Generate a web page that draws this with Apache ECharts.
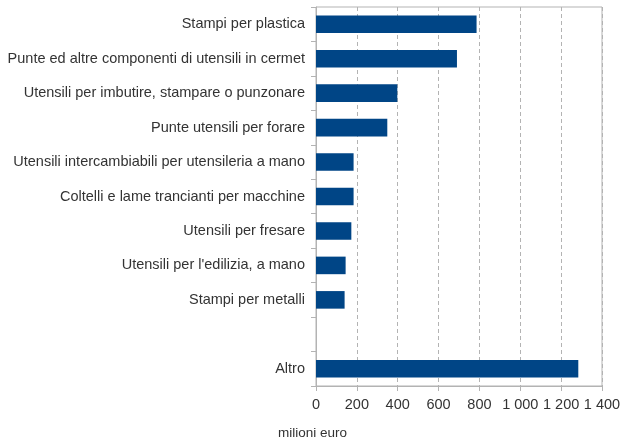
<!DOCTYPE html>
<html>
<head>
<meta charset="utf-8">
<script src="https://cdn.jsdelivr.net/npm/echarts@6/dist/echarts.min.js"></script>
<style>
  html, body { margin: 0; padding: 0; background: #fff; }
  #chart { width: 621px; height: 440px; }
</style>
</head>
<body>
<div id="chart"></div>
<script>
// categorie (dall'alto verso il basso), con una riga vuota prima di "Altro"
const categories = [
  'Stampi per plastica',
  'Punte ed altre componenti di utensili in cermet',
  'Utensili per imbutire, stampare o punzonare',
  'Punte utensili per forare',
  'Utensili intercambiabili per utensileria a mano',
  'Coltelli e lame trancianti per macchine',
  'Utensili per fresare',
  "Utensili per l'edilizia, a mano",
  'Stampi per metalli',
  '',
  'Altro'
];
// milioni di euro
const values = [786, 690, 398, 349, 184, 184, 173, 145, 140, null, 1284];
const xTicks = [0, 200, 400, 600, 800, 1000, 1200, 1400];
const unitLabel = 'milioni euro';

const chart = echarts.init(document.getElementById('chart'));

function fmt(v) {
  return String(v).replace(/\B(?=(\d{3})+(?!\d))/g, ' ');
}

chart.setOption({
  animation: false,
  textStyle: { fontFamily: 'Liberation Sans, Arial, sans-serif' },
  title: {
    text: unitLabel,
    left: 278,
    top: 426,
    padding: 0,
    textStyle: { fontSize: 13.5, fontWeight: 'normal', color: '#333', fontFamily: 'Liberation Sans, Arial, sans-serif' }
  },
  grid: {
    left: 316, right: 19, top: 7, bottom: 54,
    outerBoundsMode: 'none',
    containLabel: false,
    show: true, borderColor: '#b3b3b3', borderWidth: 1
  },
  xAxis: {
    type: 'value',
    min: xTicks[0],
    max: xTicks[xTicks.length - 1],
    interval: 200,
    axisLine: { show: true, lineStyle: { color: '#b3b3b3' } },
    axisTick: { show: true, length: 5, lineStyle: { color: '#b3b3b3' } },
    axisLabel: { color: '#333', fontSize: 14.5, margin: 11, formatter: fmt },
    splitLine: { show: true, lineStyle: { color: '#b3b3b3', type: [4, 3] } }
  },
  yAxis: {
    type: 'category',
    inverse: true,
    data: categories,
    axisLine: { show: true, lineStyle: { color: '#b3b3b3' } },
    axisTick: { show: true, length: 5, lineStyle: { color: '#b3b3b3' } },
    axisLabel: { color: '#333', fontSize: 14.5, margin: 11 },
    splitLine: { show: false }
  },
  series: [{
    type: 'bar',
    data: values,
    barCategoryGap: '49%',
    itemStyle: { color: '#004586' }
  }]
});
</script>
</body>
</html>
